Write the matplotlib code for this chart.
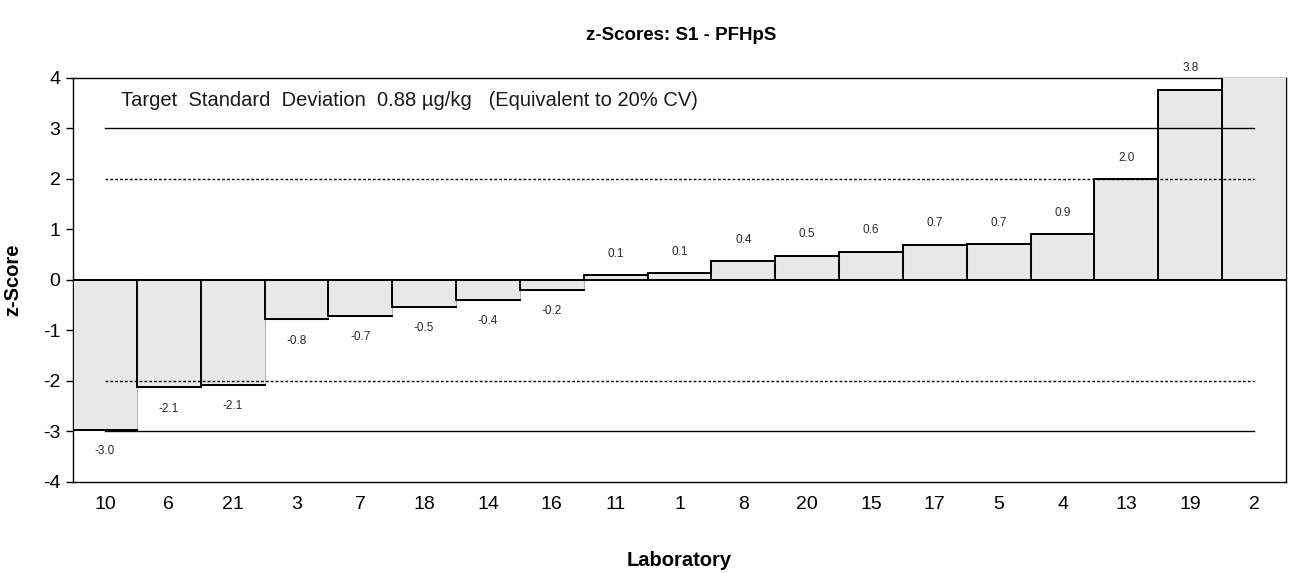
import matplotlib
matplotlib.use("Agg")
import matplotlib.pyplot as plt
import numpy as np

labs = ["10", "6", "21", "3", "7", "18", "14", "16", "11", "1", "8", "20",
        "15", "17", "5", "4", "13", "19", "2"]
zscores = [-2.97, -2.13, -2.08, -0.78, -0.72, -0.53, -0.40, -0.20, 0.10, 0.13,
           0.37, 0.48, 0.56, 0.70, 0.71, 0.90, 2.00, 3.77, 5.20]
title = "z-Scores: S1 - PFHpS"
note = "Target  Standard  Deviation  0.88 µg/kg   (Equivalent to 20% CV)"

plt.rcParams['font.family'] = ['Liberation Sans', 'DejaVu Sans']

fig = plt.figure(figsize=(12.95, 5.73), dpi=100)
ax = fig.add_axes([0.0564, 0.159, 0.993 - 0.0564, 0.864 - 0.159])

x = np.arange(len(labs))
vals = np.array(zscores)
ax.bar(x, vals, width=1.0, color="#e8e8e8", edgecolor="#b4b4b4",
       linewidth=0.8, zorder=2.6)

# black left and top edges of each bar
for xi, v in zip(x, vals):
    ax.plot([xi - 0.5, xi - 0.5, xi + 0.5], [0, v, v], color="black",
            lw=1.4, zorder=3.5, solid_joinstyle="miter")

# reference lines
for yv in (3, -3):
    ax.plot([x[0], x[-1]], [yv, yv], color="black", lw=1.0, zorder=3)
for yv in (2, -2):
    ax.plot([x[0], x[-1]], [yv, yv], color="black", lw=1.0, ls=(0, (2, 1.5)), zorder=3)
ax.axhline(0, color="black", lw=1.4, zorder=3.6)

# value labels
for xi, v in zip(x, vals):
    if v > 4:
        continue
    off = 0.42 if v >= 0 else -0.42
    ax.text(xi, v + off, f"{v:.1f}", ha="center", va="center", fontsize=8.5,
            color="#2a2a2a", clip_on=False, zorder=4)

ax.text(0.25, 3.55, note, fontsize=14.5, ha="left", va="center", color="#1a1a1a", zorder=4)

ax.set_xlim(-0.5, len(labs) - 0.5)
ax.set_ylim(-4, 4)
ax.set_yticks(range(-4, 5))
ax.set_yticklabels([str(t) for t in range(-4, 5)], fontsize=14)
ax.set_xticks(x)
ax.set_xticklabels(labs, fontsize=14)
ax.tick_params(axis="x", length=0, pad=10)
ax.tick_params(axis="y", length=5, width=1, direction="out", pad=4)
for s in ax.spines.values():
    s.set_linewidth(1.0)
    s.set_color("black")

ax.set_ylabel("z-Score", fontsize=14.5, fontweight="bold")
ax.yaxis.set_label_coords(-0.042, 0.5)
ax.set_xlabel("Laboratory", fontsize=14.5, fontweight="bold")
ax.xaxis.set_label_coords(0.5, -0.17)
fig.text(0.526, 0.938, title, fontsize=13.5, fontweight="bold", ha="center", va="center")

fig.savefig("out.png", dpi=100)
